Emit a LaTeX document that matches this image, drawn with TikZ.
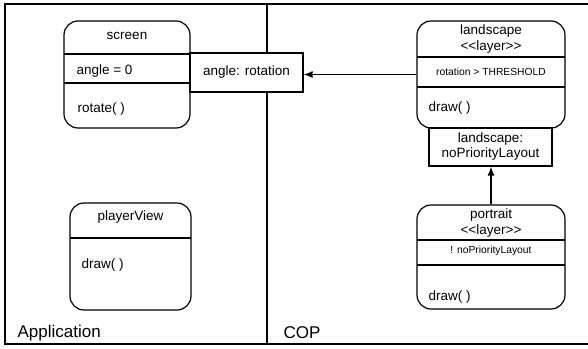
\documentclass[tikz,border=0pt]{standalone}
\usepackage{fontspec}
\setmainfont{Liberation Sans}[Ligatures=TeXOff]
\usetikzlibrary{arrows.meta}

\begin{document}
\begin{tikzpicture}[x=1pt,y=-1pt,
                    line width=1.2pt,
                    objND/.style={draw,
                                  rounded corners=14pt,
                                  inner sep=0pt},
                    boxND/.style={draw,
                                  fill=white,
                                  inner sep=0pt,
                                  align=center,
                                  font=\fontsize{13.5}{15}\selectfont},
                    txt/.style={inner sep=0pt,
                                align=center,
                                font=\fontsize{13.5}{16}\selectfont},
                    small/.style={inner sep=0pt,
                                  font=\fontsize{10.3}{12}\selectfont},
                    lbl/.style={inner sep=0pt,
                                anchor=west,
                                font=\fontsize{17}{20}\selectfont},
                    arr/.style={-{Latex[length=9pt,width=7pt]}}]
  \useasboundingbox (0,0) rectangle (588,348);
  % frame and the two areas
  \draw (588,4) -- (5,4) -- (5,344) -- (588,344);
  \draw (267,4) -- (267,344);
  \node[lbl](app) at (17,333)  {Application};
  \node[lbl](cop) at (283,333) {COP};
  % Application side
  \node[objND, minimum width=126pt, minimum height=107pt](screen) at (127,74.5) {};
  \draw (64,54) -- (190,54);
  \draw (64,83) -- (190,83);
  \node[txt](screenT) at (127,36) {screen};
  \node[txt, anchor=west](screenA) at (76,71)  {angle = 0};
  \node[txt, anchor=west](screenM) at (77,109) {rotate( )};
  \node[objND, minimum width=121pt, minimum height=107pt](player) at (130.5,256.5) {};
  \draw (70,238) -- (191,238);
  \node[txt](playerT) at (130.5,217) {playerView};
  \node[txt, anchor=west](playerM) at (81,265) {draw( )};
  % COP side
  \node[boxND, minimum width=113pt, minimum height=39pt](rot) at (246.5,72.5) {angle: rotation};
  \node[objND, minimum width=148pt, minimum height=107pt](land) at (491,74.5) {};
  \draw (417,57) -- (565,57);
  \draw (417,87) -- (565,87);
  \node[txt](landT) at (491,39.5) {landscape\\<<layer>>};
  \node[small](landC) at (491,72) {rotation > THRESHOLD};
  \node[txt, anchor=west](landM) at (428,108) {draw( )};
  \node[boxND, minimum width=123pt, minimum height=38pt](nopri) at (490.5,147) {landscape:\\noPriorityLayout};
  \node[objND, minimum width=148pt, minimum height=104pt](port) at (491,257) {};
  \draw (417,240) -- (565,240);
  \draw (417,265) -- (565,265);
  \node[txt](portT) at (491,223.5) {portrait\\<<layer>>};
  \node[small](portC) at (491,251) {! noPriorityLayout};
  \node[txt, anchor=west](portM) at (428,297) {draw( )};
  % connectors
  \draw[arr] (land.west) -- (rot.east |- land.west);
  \draw[arr] (port.north) -- (port.north |- nopri.south);
\end{tikzpicture}
\end{document}
